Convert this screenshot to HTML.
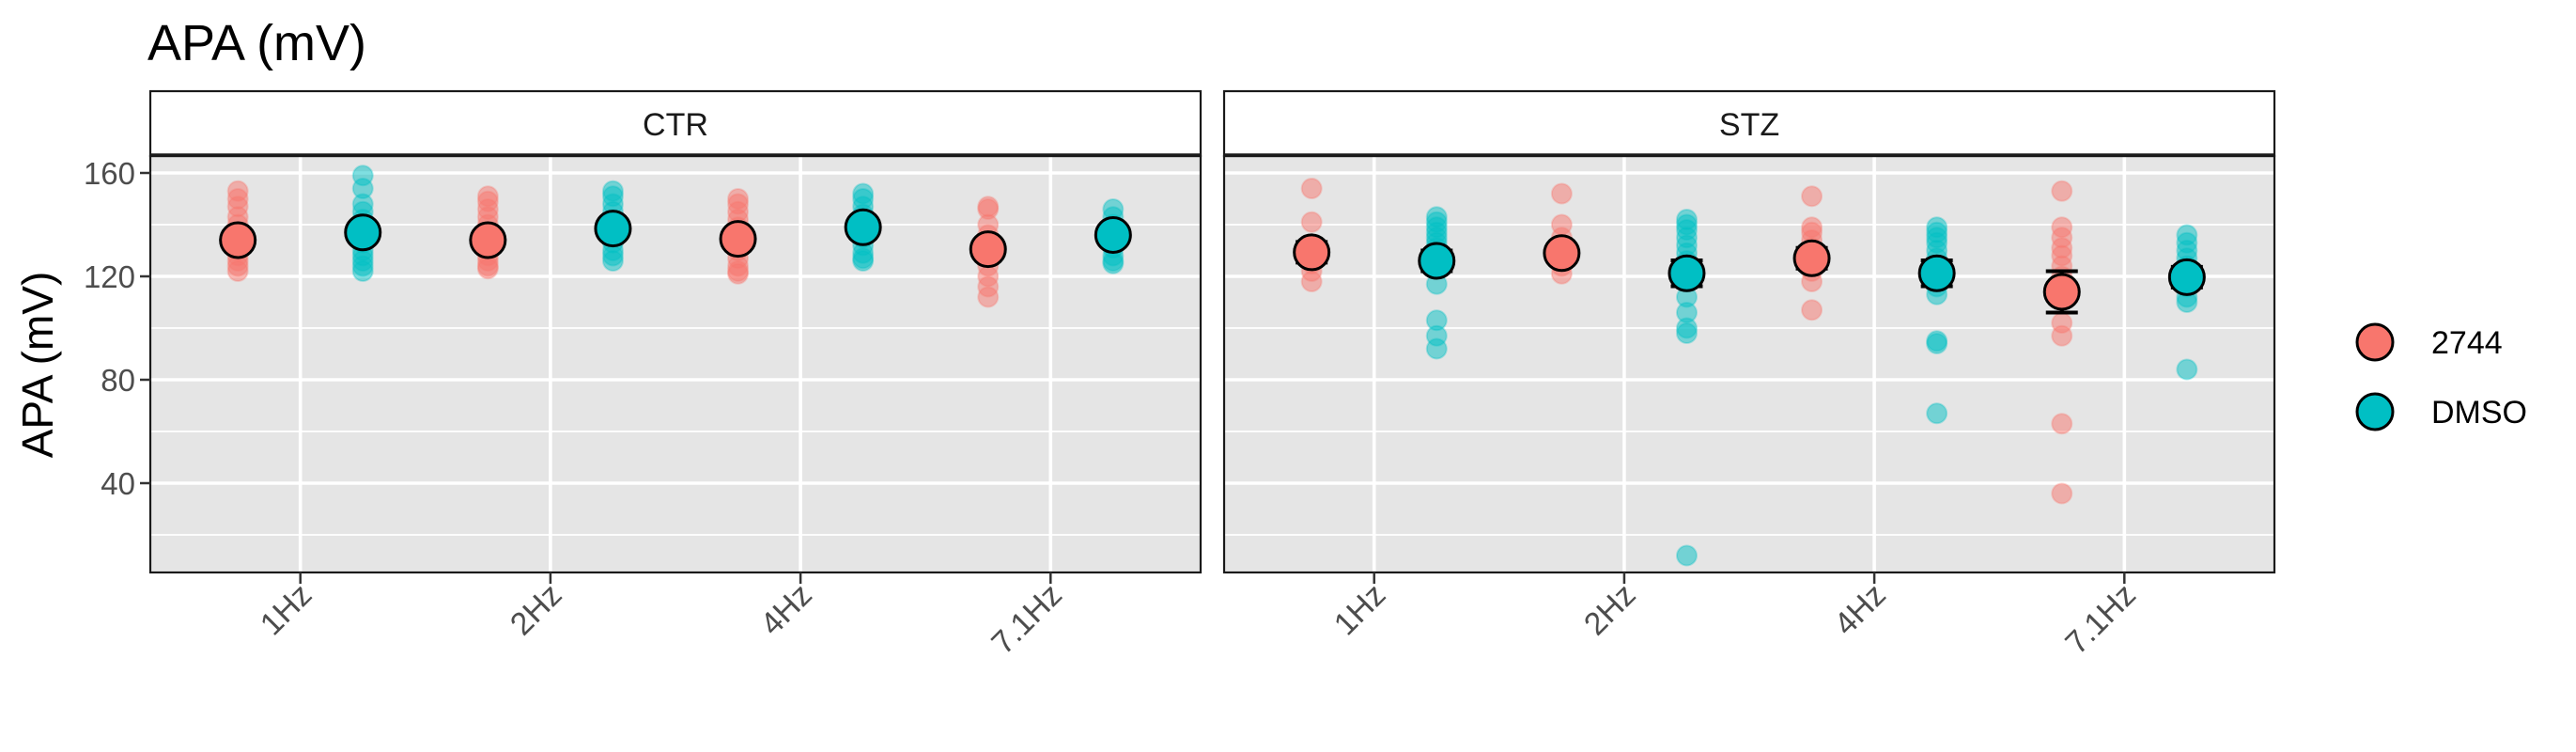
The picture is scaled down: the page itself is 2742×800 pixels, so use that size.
<!DOCTYPE html>
<html><head><meta charset="utf-8"><style>
html,body{margin:0;padding:0;background:#fff}
svg{display:block}
text{font-family:"Liberation Sans",Arial,sans-serif}
</style></head><body>
<svg id="chart" width="2742" height="800" viewBox="0 0 2742 800" xmlns="http://www.w3.org/2000/svg">
<text x="157" y="64" font-size="54" fill="#000">APA (mV)</text>
<text transform="translate(56,388) rotate(-90)" text-anchor="middle" font-size="46" fill="#000">APA (mV)</text>
<g id="panels"></g>
<g>
<circle cx="2528" cy="364" r="19" fill="#F8766D" stroke="#000" stroke-width="3"/>
<text x="2588" y="376" font-size="34">2744</text>
<circle cx="2528" cy="438" r="19" fill="#00BFC4" stroke="#000" stroke-width="3"/>
<text x="2588" y="450" font-size="34">DMSO</text>
</g>
</svg>
<script>
const panelNames = ["CTR","STZ"];
const categories = ["1Hz","2Hz","4Hz","7.1Hz"];
const groups = ["2744","DMSO"];
const yTicks = [40,80,120,160];
const yMinor = [20,60,100,140];
// raw points [panel][category][group]
const rawCTR2744 = [[153,150,147,143,140,137,135,133,130,128,126,124,122],[151,149,146,143,140,137,134,131,128,126,124,123],[150,148,145,142,139,136,133,130,127,124,122,121],[147,146,140,136,132,128,124,120,116,112]];
const rawCTRDMSO = [[159,154,148,145,142,139,136,133,130,128,126,124,122],[153,151,148,145,142,139,136,133,130,128,126],[152,150,147,144,141,138,135,132,129,127,126],[146,143,140,137,134,131,128,126,125]];
const rawSTZ2744 = [[154,141,132,128,125,122,118],[152,140,135,130,127,124,121],[151,139,137,134,131,128,125,122,118,107],[153,139,135,131,128,124,120,102,97,63,36]];
const rawSTZDMSO = [[143,141,139,137,135,133,131,128,117,103,97,92],[142,140,138,135,132,129,126,122,118,112,106,100,98,12],[139,137,135,133,130,127,124,120,116,113,95,94,67],[136,133,130,127,124,120,116,112,110,84]];
const meanCTR2744 = [134,134,134.5,130.5];
const meanCTRDMSO = [137,138.5,139,136];
const meanSTZ2744 = [129.3,129,127,114];
const meanSTZDMSO = [126,121.2,121.2,119.7];
const seCTR2744 = [2,2,2,3];
const seCTRDMSO = [2.5,2,2,2];
const seSTZ2744 = [4,3,4,8];
const seSTZDMSO = [4,5,5,4];

const NS="http://www.w3.org/2000/svg";
const colors={"2744":"#F8766D","DMSO":"#00BFC4"};
const panelX=[160,1303], panelW=1118, plotTop=166, plotBot=609;
function y(v){return 184+(160-v)*2.75;}
function x(p,ci,gi){return panelX[p]+ (ci+1-0.4)*(panelW/4.2) + (gi===0?-0.25:0.25)*(panelW/4.2);}
function xc(p,ci){return panelX[p]+(ci+1-0.4)*(panelW/4.2);}
function mk(tag,attrs,parent){const e=document.createElementNS(NS,tag);for(const k in attrs)e.setAttribute(k,attrs[k]);parent.appendChild(e);return e;}
const root=document.getElementById('panels');
const raws=[[rawCTR2744,rawCTRDMSO],[rawSTZ2744,rawSTZDMSO]];
const means=[[meanCTR2744,meanCTRDMSO],[meanSTZ2744,meanSTZDMSO]];
const ses=[[seCTR2744,seCTRDMSO],[seSTZ2744,seSTZDMSO]];
for(let p=0;p<2;p++){
  const g=mk('g',{},root);
  
  
  const bg=mk('rect',{x:panelX[p],y:plotTop,width:panelW,height:plotBot-plotTop,fill:'#E5E5E5'},g);
  
  
  yMinor.forEach(v=>{const l=mk('line',{x1:panelX[p],x2:panelX[p]+panelW,y1:y(v),y2:y(v),stroke:'#fff','stroke-width':1.8},g);
    
    });
  yTicks.forEach(v=>{const l=mk('line',{x1:panelX[p],x2:panelX[p]+panelW,y1:y(v),y2:y(v),stroke:'#fff','stroke-width':3.6},g);
    
    });
  categories.forEach((c,ci)=>{const l=mk('line',{x1:xc(p,ci),x2:xc(p,ci),y1:plotTop,y2:plotBot,stroke:'#fff','stroke-width':3.6},g);
    
    });
  for(let ci=0;ci<4;ci++)for(let gi=0;gi<2;gi++){
    raws[p][gi][ci].forEach(v=>{const c=mk('circle',{cx:x(p,ci,gi),cy:y(v),r:10.5,fill:colors[groups[gi]],'fill-opacity':0.5,stroke:colors[groups[gi]],'stroke-opacity':0.3,'stroke-width':2},g);
      
      });
  }
  for(let ci=0;ci<4;ci++)for(let gi=0;gi<2;gi++){
    const m=means[p][gi][ci], s=ses[p][gi][ci], cx=x(p,ci,gi);
    const eb=mk('path',{d:`M${cx-17},${y(m+s)}H${cx+17}M${cx},${y(m+s)}V${y(m-s)}M${cx-17},${y(m-s)}H${cx+17}`,stroke:'#000','stroke-width':4,fill:'none'},g);
    
    
    const c=mk('circle',{cx:cx,cy:y(m),r:18.5,fill:colors[groups[gi]],stroke:'#000','stroke-width':3},g);
    
    
  }
  const br=mk('rect',{x:panelX[p],y:plotTop,width:panelW,height:plotBot-plotTop,fill:'none',stroke:'#1a1a1a','stroke-width':2.2},g);
  
  
  const st=mk('rect',{x:panelX[p],y:97,width:panelW,height:plotTop-97,fill:'#fff',stroke:'#1a1a1a','stroke-width':2.2},g);
  
  
  mk('line',{x1:panelX[p],x2:panelX[p]+panelW,y1:plotTop-1,y2:plotTop-1,stroke:'#1a1a1a','stroke-width':3.5},g);
  const stt=mk('text',{x:panelX[p]+panelW/2,y:144,'text-anchor':'middle','font-size':34,fill:'#1a1a1a'},g);
  stt.textContent=panelNames[p];
  
  
  categories.forEach((c,ci)=>{
    const tx=xc(p,ci);
    mk('line',{x1:tx,x2:tx,y1:plotBot,y2:plotBot+12,stroke:'#333','stroke-width':2.5},g);
    const t=mk('text',{transform:`translate(${tx+14},${plotBot+26}) rotate(-45)`,'text-anchor':'end','font-size':34,fill:'#4D4D4D'},g);
    t.textContent=c;
    
    
  });
  if(p===0){
    yTicks.forEach(v=>{
      mk('line',{x1:panelX[0]-11,x2:panelX[0],y1:y(v),y2:y(v),stroke:'#333','stroke-width':2.5},g);
      const t=mk('text',{x:panelX[0]-16,y:y(v)+12,'text-anchor':'end','font-size':33,fill:'#4D4D4D'},g);
      t.textContent=v;
      
      
    });
  }
}
</script>
</body></html>
